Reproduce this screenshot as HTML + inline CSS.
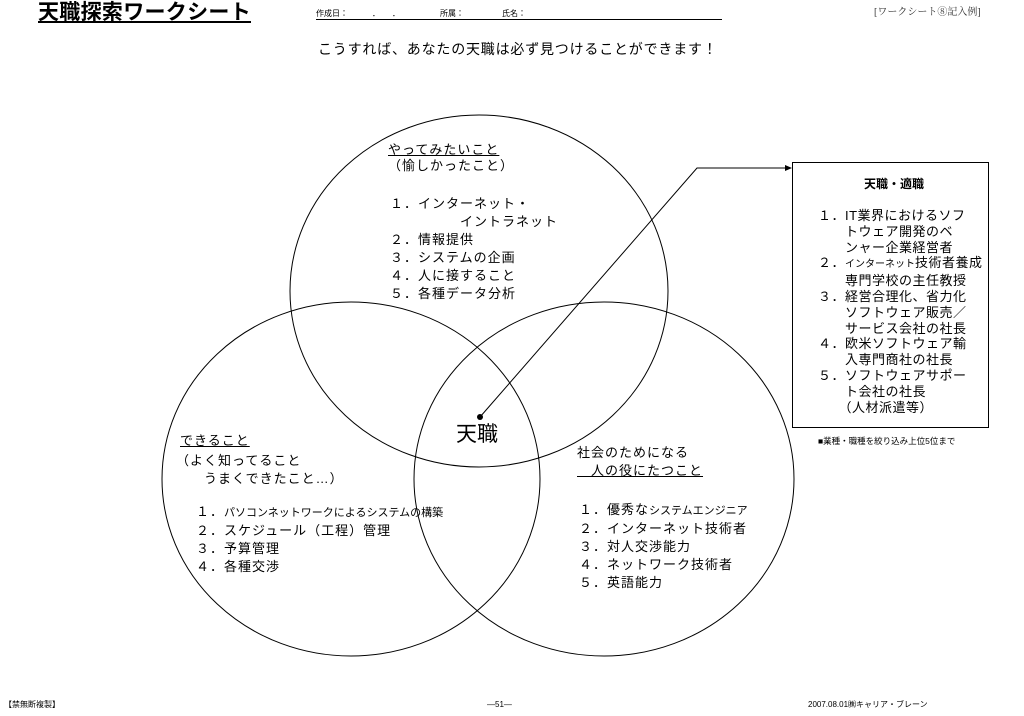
<!DOCTYPE html>
<html><head><meta charset="utf-8"><style>
body{margin:0;width:1024px;height:716px;background:#fff;position:relative;overflow:hidden;font-family:"Liberation Sans","Noto Sans CJK JP",sans-serif;color:#000}
.t{position:absolute;white-space:pre;line-height:1}
.f13{font-size:13px;letter-spacing:1px}
u{text-decoration:underline}
</style></head><body>
<svg width="1024" height="716" style="position:absolute;left:0;top:0">
<ellipse cx="479" cy="291" rx="189" ry="176" fill="none" stroke="#000" stroke-width="1"/>
<ellipse cx="351" cy="479" rx="189" ry="177" fill="none" stroke="#000" stroke-width="1"/>
<ellipse cx="604" cy="479" rx="190" ry="177" fill="none" stroke="#000" stroke-width="1"/>
<rect x="792.5" y="162.5" width="196" height="265" fill="#fff" stroke="#000"/>
<polyline points="480,417 697,168 786,168" fill="none" stroke="#000" stroke-width="1"/>
<polygon points="792,168 785,165 785,171" fill="#000"/>
<circle cx="480" cy="417" r="3" fill="#000"/>
<line x1="316" y1="19.5" x2="722" y2="19.5" stroke="#000"/>
</svg>
<div class="t" style="left:38px;top:2px;font-size:21px;font-weight:bold;text-decoration:underline;letter-spacing:0.3px">天職探索ワークシート</div>
<div class="t" style="left:316px;top:10px;font-size:8px">作成日：　　　．　　．</div>
<div class="t" style="left:440px;top:10px;font-size:8px">所属：</div>
<div class="t" style="left:502px;top:10px;font-size:8px">氏名：</div>
<div class="t" style="left:874px;top:8px;font-size:10px;font-family:'Liberation Serif','Noto Serif CJK SC',serif;color:#333">[ワークシート⑧記入例]</div>
<div class="t" style="left:318px;top:42px;font-size:14px;letter-spacing:0.8px">こうすれば、あなたの天職は必ず見つけることができます！</div>

<div class="t f13" style="left:388px;top:143px"><u>やってみたいこと</u></div>
<div class="t f13" style="left:388px;top:159px">（愉しかったこと）</div>
<div class="t f13" style="left:390px;top:195px;line-height:18px">１．インターネット・
　　　　　イントラネット
２．情報提供
３．システムの企画
４．人に接すること
５．各種データ分析</div>

<div class="t f13" style="left:180px;top:434px"><u>できること</u></div>
<div class="t f13" style="left:176px;top:452px;line-height:18px">（よく知ってること
　　うまくできたこと…）</div>
<div class="t f13" style="left:196px;top:503px;line-height:18px">１．<span style="font-size:11px;letter-spacing:0">パソコンネットワークによるシステムの構築</span>
２．スケジュール（工程）管理
３．予算管理
４．各種交渉</div>

<div class="t f13" style="left:577px;top:446px">社会のためになる</div>
<div class="t f13" style="left:577px;top:464px"><u>　人の役にたつこと</u></div>
<div class="t f13" style="left:579px;top:501px;line-height:18px">１．優秀な<span style="font-size:11px;letter-spacing:0">システムエンジニア</span>
２．インターネット技術者
３．対人交渉能力
４．ネットワーク技術者
５．英語能力</div>

<div class="t" style="left:456px;top:424px;font-size:21px">天職</div>

<div class="t" style="left:864px;top:178px;font-size:12px;font-weight:bold">天職・適職</div>
<div class="t f13" style="left:818px;top:208px;line-height:15.8px;letter-spacing:0.5px">１．IT業界におけるソフ
　　トウェア開発のベ
　　ンャー企業経営者
２．<span style="font-size:10px;letter-spacing:0">インターネット</span>技術者養成
　　専門学校の主任教授
３．経営合理化、省力化
　　ソフトウェア販売／
　　サービス会社の社長
４．欧米ソフトウェア輸
　　入専門商社の社長
５．ソフトウェアサポー
　　ト会社の社長
　　（人材派遣等）</div>
<div class="t" style="left:818px;top:437px;font-size:8.5px">■業種・職種を絞り込み上位5位まで</div>

<div class="t" style="left:4px;top:701px;font-size:8px">【禁無断複製】</div>
<div class="t" style="left:487px;top:701px;font-size:8px">—51—</div>
<div class="t" style="left:808px;top:701px;font-size:8px">2007.08.01㈱キャリア・ブレーン</div>
</body></html>
